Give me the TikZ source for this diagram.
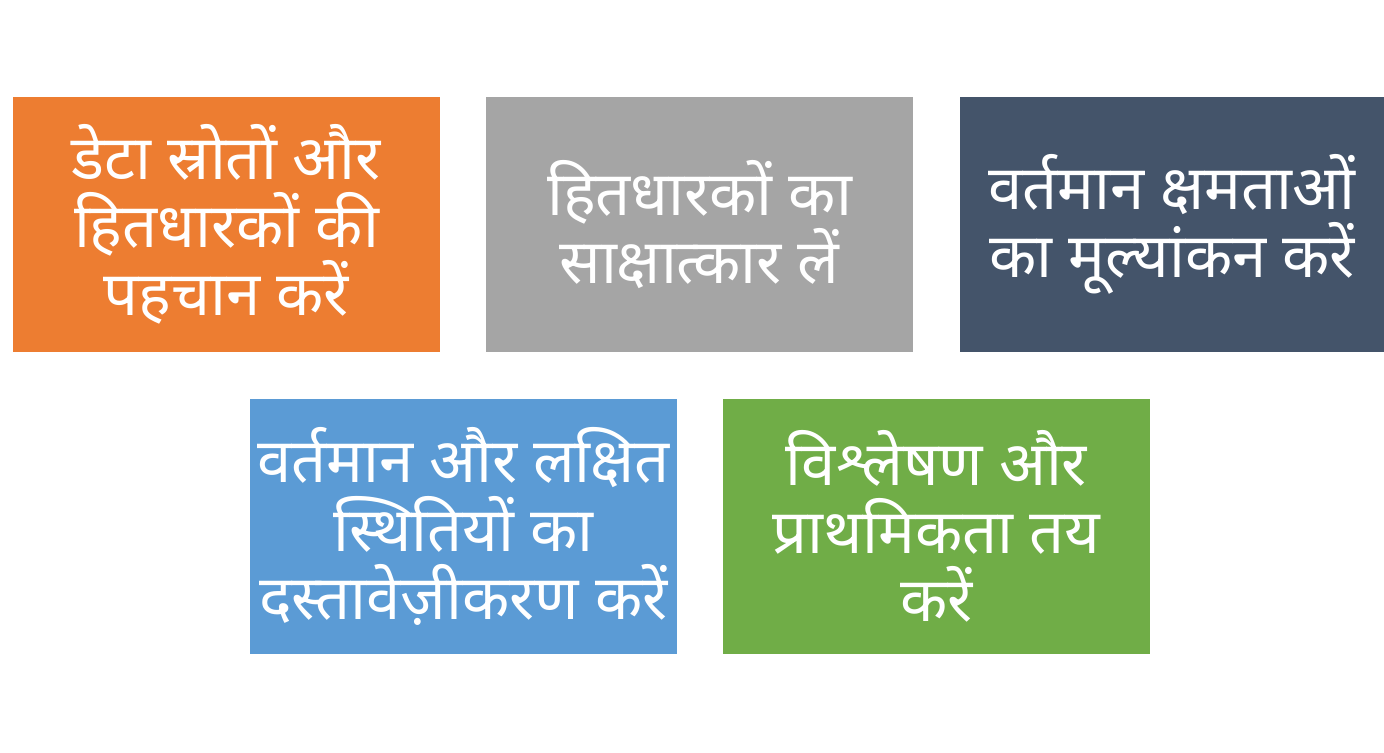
\documentclass[tikz,border=0pt]{standalone}
\usepackage{fontspec}
\newfontfamily\hindi[Script=Devanagari]{Noto Sans}
\definecolor{stepOrange}{HTML}{ED7D31}
\definecolor{stepGray}{HTML}{A5A5A5}
\definecolor{stepNavy}{HTML}{44546A}
\definecolor{stepBlue}{HTML}{5B9BD5}
\definecolor{stepGreen}{HTML}{70AD47}
\tikzset{
  stepbox/.style={rectangle,inner sep=0pt,minimum width=4.27cm,minimum height=2.55cm,
    text=white,align=center,font=\hindi\fontsize{17.5}{19.4}\selectfont}
}
\begin{document}
\begin{tikzpicture}
      \useasboundingbox (0,0) rectangle (13.84,-7.52);
      \fill[white] (0,0) rectangle (13.84,-7.52);

      \node (sources) at (2.265,-2.245) [stepbox,fill=stepOrange] {डेटा स्रोतों और\\हितधारकों की\\पहचान करें};
      \node (interview) at (6.995,-2.245) [stepbox,fill=stepGray] {हितधारकों का\\साक्षात्कार लें};
      \node (assess) at (11.72,-2.245) [stepbox,fill=stepNavy,minimum width=4.24cm] {वर्तमान क्षमताओं\\का मूल्यांकन करें};
      \node (document) at (4.635,-5.265) [stepbox,fill=stepBlue] {वर्तमान और लक्षित\\स्थितियों का\\दस्तावेज़ीकरण करें};
      \node (prioritize) at (9.365,-5.265) [stepbox,fill=stepGreen] {विश्लेषण और\\प्राथमिकता तय\\करें};
    \end{tikzpicture}
\end{document}
